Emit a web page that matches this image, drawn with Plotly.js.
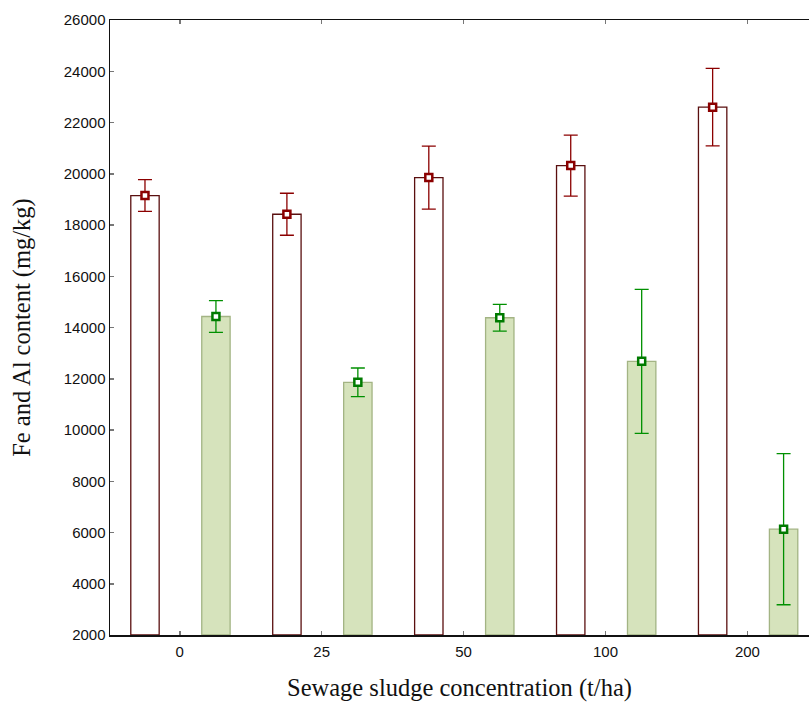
<!DOCTYPE html>
<html>
<head>
<meta charset="utf-8">
<script src="https://cdn.plot.ly/plotly-3.0.1.min.js"></script>
<style>html,body{margin:0;padding:0;background:#fff;}#chart{width:809px;height:702px;}</style>
</head>
<body>
<div id="chart"></div>
<script>
var categories = ['0', '25', '50', '100', '200'];
var feMean = [19150, 18420, 19850, 20320, 22600];
var feErr  = [620, 820, 1230, 1190, 1510];
var alMean = [14430, 11860, 14380, 12680, 6130];
var alErr  = [620, 560, 520, 2810, 2950];
var yTicks = [2000, 4000, 6000, 8000, 10000, 12000, 14000, 16000, 18000, 20000, 22000, 24000, 26000];
var yBase = 2000;

var idx = categories.map(function (c, i) { return i; });
var feShift = -0.245, alShift = 0.255, barW = 0.2;

var traces = [
  {
    type: 'bar', x: idx, y: feMean.map(function (v) { return v - yBase; }), base: yBase,
    width: barW, offset: feShift - barW / 2,
    marker: { color: '#ffffff', line: { color: '#5a0f0f', width: 1.3 } },
    hoverinfo: 'skip', showlegend: false
  },
  {
    type: 'bar', x: idx, y: alMean.map(function (v) { return v - yBase; }), base: yBase,
    width: barW, offset: alShift - barW / 2,
    marker: { color: '#d6e3bc', line: { color: '#a3b484', width: 1.3 } },
    hoverinfo: 'skip', showlegend: false
  },
  {
    type: 'scatter', mode: 'markers',
    x: idx.map(function (i) { return i + feShift; }), y: feMean,
    error_y: { type: 'data', array: feErr, visible: true, color: '#8b0000', thickness: 1.3, width: 7 },
    marker: { symbol: 'square', size: 7, color: '#ffffff', line: { color: '#8b0000', width: 2.5 } },
    showlegend: false
  },
  {
    type: 'scatter', mode: 'markers',
    x: idx.map(function (i) { return i + alShift; }), y: alMean,
    error_y: { type: 'data', array: alErr, visible: true, color: '#009000', thickness: 1.3, width: 7 },
    marker: { symbol: 'square', size: 7, color: '#ffffff', line: { color: '#007a00', width: 2.5 } },
    showlegend: false
  }
];

var layout = {
  width: 809, height: 702,
  margin: { l: 110, r: 0, t: 20, b: 67 },
  paper_bgcolor: '#ffffff', plot_bgcolor: '#ffffff',
  barmode: 'overlay',
  font: { family: 'Liberation Sans, Arial, sans-serif', color: '#111111', size: 15 },
  xaxis: {
    range: [-0.4915, 4.434],
    tickmode: 'array', tickvals: idx, ticktext: categories,
    showgrid: false, zeroline: false,
    showline: true, linecolor: '#111111', linewidth: 1.5,
    mirror: 'allticks', ticks: 'inside', ticklen: 4, tickcolor: '#777777', tickwidth: 1.5,
    tickfont: { family: 'Liberation Sans, Arial, sans-serif', size: 15, color: '#111111' },
    ticklabelstandoff: 2,
    title: { text: 'Sewage sludge concentration (t/ha)', font: { family: 'Liberation Serif, Times New Roman, serif', size: 24.5, color: '#111111' }, standoff: 20 }
  },
  yaxis: {
    range: [2000, 26000],
    tickmode: 'array', tickvals: yTicks, ticktext: yTicks.map(String),
    showgrid: false, zeroline: false,
    showline: true, linecolor: '#111111', linewidth: 1.5,
    ticks: 'inside', ticklen: 4, tickcolor: '#777777', tickwidth: 1.5,
    tickfont: { family: 'Liberation Sans, Arial, sans-serif', size: 15, color: '#111111' },
    title: { text: 'Fe and Al content (mg/kg)', font: { family: 'Liberation Serif, Times New Roman, serif', size: 24.5, color: '#111111' }, standoff: 26 }
  }
};

Plotly.newPlot('chart', traces, layout, { displayModeBar: false, staticPlot: true });
</script>
</body>
</html>
